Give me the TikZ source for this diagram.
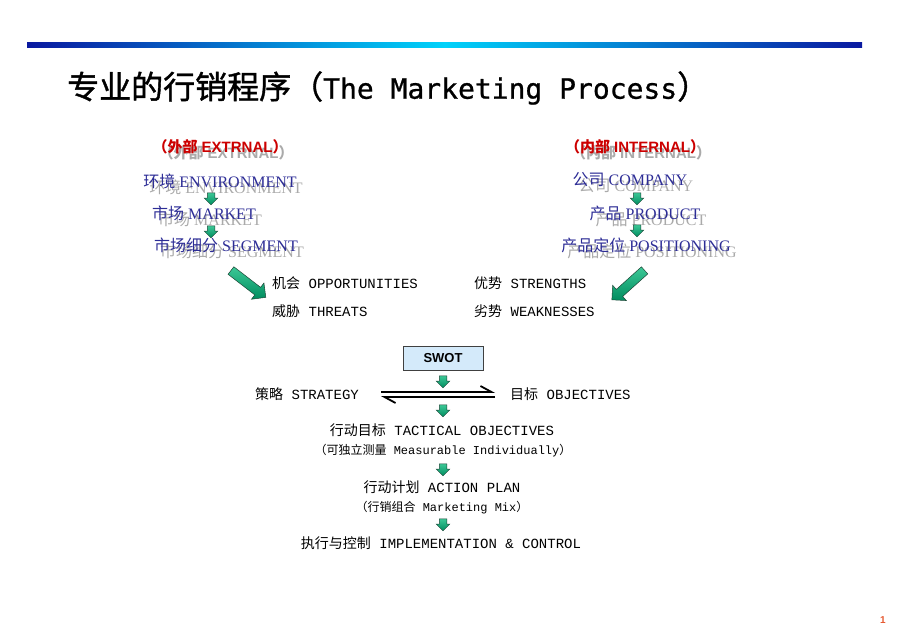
\documentclass[tikz,border=0pt]{standalone}
\usepackage{fontspec}
\usepackage{tikz}
\usetikzlibrary{arrows.meta,shapes.arrows}
\setmainfont{Liberation Serif}
\newfontfamily\cjk{Noto Sans CJK SC}
\newfontfamily\cjkt{Noto Sans CJK SC}[BoldFont=Noto Sans CJK SC, BoldFeatures={FakeBold=1.2}]
\newfontfamily\mono{Liberation Mono}
\newfontfamily\tmono{DejaVu Sans Mono}[BoldFont=DejaVu Sans Mono, BoldFeatures={FakeBold=0.8}]
\newfontfamily\hsans{Liberation Sans}
\definecolor{navytxt}{RGB}{45,45,150}
\definecolor{redtxt}{RGB}{204,0,0}
\definecolor{shadowgray}{RGB}{170,170,170}
\definecolor{glight}{RGB}{60,200,150}
\definecolor{gdark}{RGB}{0,140,95}
\definecolor{gedge}{RGB}{30,70,55}
\definecolor{swotfill}{RGB}{212,234,250}
\definecolor{barblue}{RGB}{10,25,160}
\definecolor{barcyan}{RGB}{0,210,250}
\definecolor{pgred}{RGB}{230,90,50}
\tikzset{
  x=1pt, y=-1pt,
  blk/.style={inner sep=0pt, text=navytxt, font=\fontsize{16}{18}\selectfont},
  hdr/.style={inner sep=0pt, text=redtxt, font=\hsans\bfseries\fontsize{15}{17}\selectfont},
  swt/.style={inner sep=0pt, anchor=west, font=\mono\fontsize{14}{16}\selectfont},
  flow/.style={inner sep=0pt, font=\mono\fontsize{14}{16}\selectfont},
  note/.style={inner sep=0pt, font=\mono\fontsize{12}{14}\selectfont},
  garr/.style={single arrow, draw=gedge, line width=0.5pt, top color=glight, bottom color=gdark,
    inner xsep=0pt, inner ysep=3.5pt, minimum width=13pt, minimum height=12pt,
    single arrow head extend=3pt, single arrow head indent=0pt, rotate=-90},
  bigarr/.style={garr, inner ysep=4.5pt, minimum width=20pt, minimum height=44pt,
    single arrow head extend=5.5pt},
  harp/.style={line width=1.8pt, -{Straight Barb[harpoon,length=11pt,width=12pt]}}
}
\newcommand{\zh}[1]{{\cjk #1}}
\newcommand{\shadowed}[4]{%
  \node[#3, text=shadowgray] at ([shift={(6,6)}]#2) {#4};
  \node[#3] (#1) at (#2) {#4};}

\begin{document}
\begin{tikzpicture}
\useasboundingbox (0,0) rectangle (920,636);
\shade[left color=barblue, right color=barblue, middle color=barcyan] (27,42.5) rectangle (862,47.5);
\node[anchor=west, inner sep=0pt, font=\tmono\bfseries\fontsize{28}{31}\selectfont] (ttl) at (67,88)
  {{\cjkt\bfseries\fontsize{32}{35}\selectfont 专业的行销程序（}The Marketing Process{\cjkt\bfseries\fontsize{32}{35}\selectfont ）}};

\shadowed{ext}{220,147}{hdr}{\zh{（外部} EXTRNAL\zh{）}}
\shadowed{env}{220,181}{blk}{\zh{环境} ENVIRONMENT}
\shadowed{mkt}{204,213}{blk}{\zh{市场} MARKET}
\shadowed{seg}{226,245}{blk}{\zh{市场细分} SEGMENT}
\node[garr] (a1) at (211,197) {};
\node[garr] (a2) at (211,230) {};

\shadowed{int}{635,147}{hdr}{\zh{（内部} INTERNAL\zh{）}}
\shadowed{com}{630,180}{blk}{\zh{公司} COMPANY}
\shadowed{prd}{645,213}{blk}{\zh{产品} PRODUCT}
\shadowed{pos}{646,245}{blk}{\zh{产品定位} POSITIONING}
\node[garr] (b1) at (637,197) {};
\node[garr] (b2) at (637,229) {};

\node[bigarr, rotate=52.4] (dl) at (246.5,282.5) {};
\node[bigarr, rotate=-48] (dr) at (630,283.5) {};

\node[swt] (opp) at (272,283) {\zh{机会} OPPORTUNITIES};
\node[swt] (thr) at (272,311) {\zh{威胁} THREATS};
\node[swt] (stg) at (474,283) {\zh{优势} STRENGTHS};
\node[swt] (wea) at (474,311) {\zh{劣势} WEAKNESSES};

\node[draw=black!75, line width=0.8pt, fill=swotfill, minimum width=80pt, minimum height=24pt,
  font=\hsans\bfseries\fontsize{13}{15}\selectfont] (swot) at (443,358) {SWOT};
\node[garr] (d1) at (443,380) {};

\node[swt] (strat) at (255,394) {\zh{策略} STRATEGY};
\node[swt] (obj) at (510,394) {\zh{目标} OBJECTIVES};
\draw[harp] ([xshift=22pt,yshift=2pt]strat.east) -- ([xshift=-15pt,yshift=2pt]obj.west);
\draw[harp] ([xshift=-15pt,yshift=-3pt]obj.west) -- ([xshift=22pt,yshift=-3pt]strat.east);

\node[garr] (d2) at (443,409) {};
\node[flow] (tac) at (442,430) {\zh{行动目标} TACTICAL OBJECTIVES};
\node[note] (meas) at (443,451) {\zh{（可独立测量} Measurable Individually\zh{）}};
\node[garr] (d3) at (443,468) {};
\node[flow] (act) at (442,487) {\zh{行动计划} ACTION PLAN};
\node[note] (mix) at (442,508) {\zh{（行销组合} Marketing Mix\zh{）}};
\node[garr] (d4) at (443,523) {};
\node[flow] (imp) at (441,543) {\zh{执行与控制} IMPLEMENTATION \& CONTROL};

\node[inner sep=0pt, text=pgred, font=\hsans\bfseries\fontsize{10}{11}\selectfont] (pg) at (883,620) {1};
\end{tikzpicture}
\end{document}
